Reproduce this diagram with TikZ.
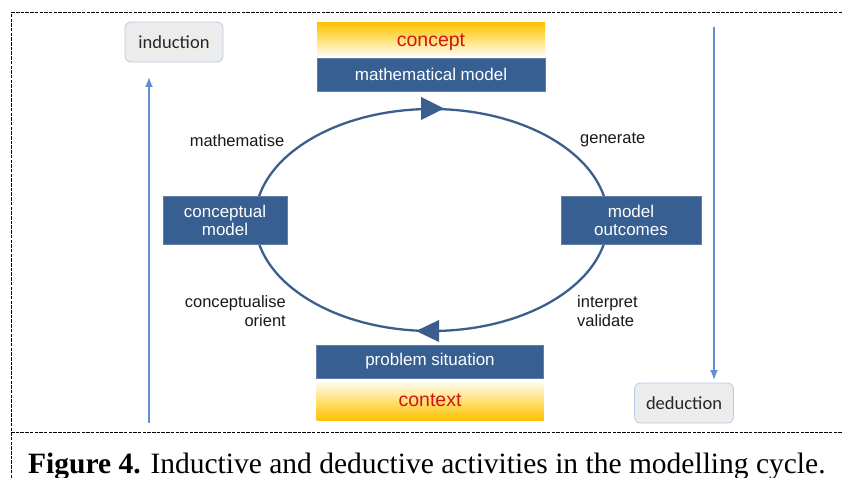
\documentclass[tikz,border=0pt]{standalone}
\usepackage{fontspec}
\usetikzlibrary{arrows.meta}
\newfontfamily\arialf{Liberation Sans}
\newfontfamily\calibf{Carlito}
\newfontfamily\serff{Liberation Serif}
\definecolor{boxblue}{RGB}{55,95,145}
\definecolor{cycblue}{RGB}{59,94,140}
\definecolor{sideblue}{RGB}{96,142,208}
\definecolor{gold}{RGB}{255,192,0}
\definecolor{goldmid}{RGB}{255,226,120}
\definecolor{tagfill}{RGB}{236,236,236}
\definecolor{tagline}{RGB}{184,204,230}
\definecolor{redtxt}{RGB}{210,20,20}
\tikzset{
  bluebox/.style={draw=boxblue!80!white, fill=boxblue, line width=0.6pt, text=white, inner sep=0pt, align=center, font=\arialf\fontsize{17}{18}\selectfont},
  goldtop/.style={top color=gold, bottom color=white, middle color=goldmid, inner sep=0pt, text=redtxt, font=\arialf\fontsize{19.5}{21}\selectfont},
  goldbot/.style={top color=white, bottom color=gold, middle color=goldmid, inner sep=0pt, text=redtxt, font=\arialf\fontsize{19.5}{21}\selectfont},
  tagbox/.style={draw=tagline, fill=tagfill, line width=0.8pt, rounded corners=6pt, inner sep=0pt, font=\calibf\fontsize{18.5}{20}\selectfont, text=black!85},
  lbl/.style={inner sep=0pt, font=\arialf\fontsize{16.5}{18.5}\selectfont, text=black!90},
  cyc/.style={draw=cycblue, line width=2.3pt},
  sidearrow/.style={draw=sideblue, line width=1.8pt, -{Latex[length=10pt,width=8pt]}},
  frame/.style={draw=black, line width=1pt, dash pattern=on 3.5pt off 1.2pt}
}
\begin{document}
\begin{tikzpicture}[x=1pt,y=-1pt]
\useasboundingbox (0,0) rectangle (842,478);
\fill[white] (0,0) rectangle (842,478);
% frame
\draw[frame] (11,478) -- (11,13) -- (842,13);
\draw[frame] (11,432) -- (842,432);
% cycle
\draw[cyc] (431.5,220) ellipse [x radius=176.5, y radius=111];
\fill[cycblue] (421,97) -- (444,108.5) -- (421,120) -- cycle;
\fill[cycblue] (439,320) -- (416,331) -- (439,342) -- cycle;
% top group
\node[goldtop, minimum width=228pt, minimum height=35pt, text height=14pt, text depth=0pt] (concept) at (431,40) {concept};
\node[bluebox, minimum width=228pt, minimum height=33pt] (mm) at (431,74.5) {mathematical model};
% bottom group
\node[bluebox, minimum width=227pt, minimum height=33pt] (ps) at (430,361.5) {problem situation};
\node[goldbot, minimum width=227pt, minimum height=41pt, text height=14pt, text depth=2pt] (context) at (430,400) {context};
% side boxes
\node[bluebox, minimum width=124pt, minimum height=48pt] (cm) at (225,220) {conceptual\\model};
\node[bluebox, minimum width=140pt, minimum height=48pt] (mo) at (631,220) {model\\outcomes};
% tags
\node[tagbox, minimum width=98pt, minimum height=40pt] (ind) at (174,42) {induction};
\node[tagbox, minimum width=99pt, minimum height=40pt] (ded) at (684,403) {deduction};
% labels
\node[lbl, anchor=center] (lmath) at (237,141) {mathematise};
\node[lbl, anchor=west] (lgen) at (580,140) {generate};
\node[lbl, anchor=east, align=right] (lconc) at (286,311) {conceptualise\\orient};
\node[lbl, anchor=west, align=left] (linterp) at (577,311) {interpret\\validate};
% side arrows
\coordinate (lbot) at (149,423);
\coordinate (ltop) at (149,77);
\coordinate (rtop) at (714,27);
\coordinate (rbot) at (714,380);
\draw[sidearrow] (lbot) -- (ltop);
\draw[sidearrow] (rtop) -- (rbot);
% caption
\node[anchor=base west, inner sep=0pt, font=\serff\fontsize{29.5}{32}\selectfont] (cap) at (28,473) {\textbf{Figure 4.} Inductive and deductive activities in the modelling cycle.};
\end{tikzpicture}
\end{document}
